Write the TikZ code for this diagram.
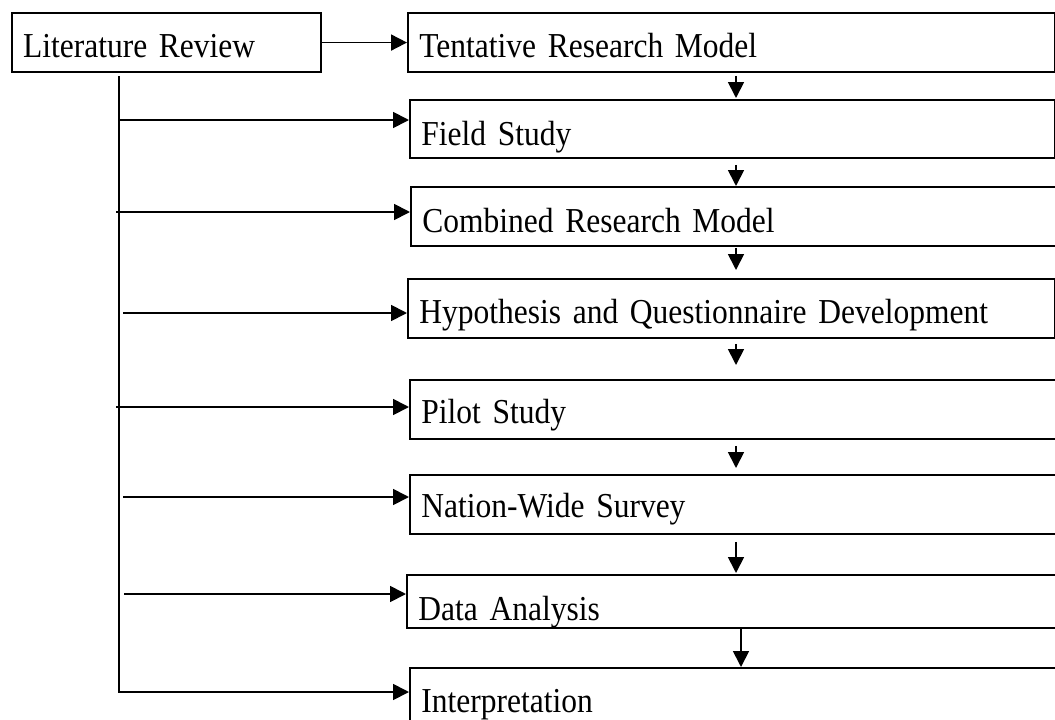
\documentclass[tikz,border=0pt]{standalone}
\usepackage{fontspec}
\setmainfont{Liberation Serif}[FakeStretch=0.9, WordSpace=0.82]
\usetikzlibrary{arrows.meta}
\begin{document}
\begin{tikzpicture}[x=1pt,y=-1pt,
  line width=1.8pt,
  arr/.style={-{Triangle[length=16pt,width=16pt]}},
  stagebox/.style={draw, rectangle, anchor=north west, inner xsep=11.5pt, inner ysep=0pt,
    align=left, font=\fontsize{35}{40}\selectfont},
]
% canvas
\useasboundingbox (0,0) rectangle (1055,720);
\clip (0,0) rectangle (1055,720);

% boxes: text width = width - 2*inner xsep; text height/depth fix the baseline
\node[stagebox, text width=286.5pt, text height=44.7pt, text depth=14pt] (lit) at (10.7,12.3) {Literature Review};
\node[stagebox, text width=624pt, text height=45pt, text depth=14pt] (tent) at (407,12) {Tentative Research Model};
\node[stagebox, text width=622pt, text height=46pt, text depth=12pt] (field) at (409,99) {Field Study};
\node[stagebox, text width=629pt, text height=45.5pt, text depth=13.5pt] (comb) at (410,186) {Combined Research Model};
\node[stagebox, text width=624pt, text height=45pt, text depth=14pt] (hyp) at (407,278) {Hypothesis and Questionnaire Development};
\node[stagebox, text width=630pt, text height=44pt, text depth=15pt] (pilot) at (409,379) {Pilot Study};
\node[stagebox, text width=630pt, text height=43pt, text depth=16pt] (nation) at (409,474) {Nation-Wide Survey};
\node[stagebox, text width=633pt, text height=46pt, text depth=7pt] (data) at (406,574) {Data Analysis};
\node[stagebox, text width=630pt, text height=45pt, text depth=23pt] (interp) at (409,667) {Interpretation};

% literature review feeds the first stage directly
\draw[arr] (lit.east) -- (lit.east -| tent.west);

% trunk from the literature review and its branches
\coordinate (trunktop) at (119,76);
\coordinate (trunkbot) at (119,692);
\coordinate (b2) at (119,120);
\coordinate (b3) at (116,212);
\coordinate (b4) at (123,313);
\coordinate (b5) at (116,407);
\coordinate (b6) at (123,497);
\coordinate (b7) at (124,594);
\draw[arr] (trunktop) |- (trunkbot -| interp.west);
\draw[arr] (b2) -- (b2 -| field.west);
\draw[arr] (b3) -- (b3 -| comb.west);
\draw[arr] (b4) -- (b4 -| hyp.west);
\draw[arr] (b5) -- (b5 -| pilot.west);
\draw[arr] (b6) -- (b6 -| nation.west);
\draw[arr] (b7) -- (b7 -| data.west);

% sequence of stages
\coordinate (ax) at (736,0);
\coordinate (ax2) at (741,0);
\draw[arr, shorten <=3pt, shorten >=1pt] (tent.south -| ax) -- (field.north -| ax);
\draw[arr, shorten <=6pt, shorten >=0pt] (field.south -| ax) -- (comb.north -| ax);
\draw[arr, shorten <=1pt, shorten >=8pt] (comb.south -| ax) -- (hyp.north -| ax);
\draw[arr, shorten <=5pt, shorten >=14pt] (hyp.south -| ax) -- (pilot.north -| ax);
\draw[arr, shorten <=6pt, shorten >=6pt] (pilot.south -| ax) -- (nation.north -| ax);
\draw[arr, shorten <=7pt, shorten >=1pt] (nation.south -| ax) -- (data.north -| ax);
\draw[arr] (data.south -| ax2) -- (interp.north -| ax2);
\end{tikzpicture}
\end{document}
